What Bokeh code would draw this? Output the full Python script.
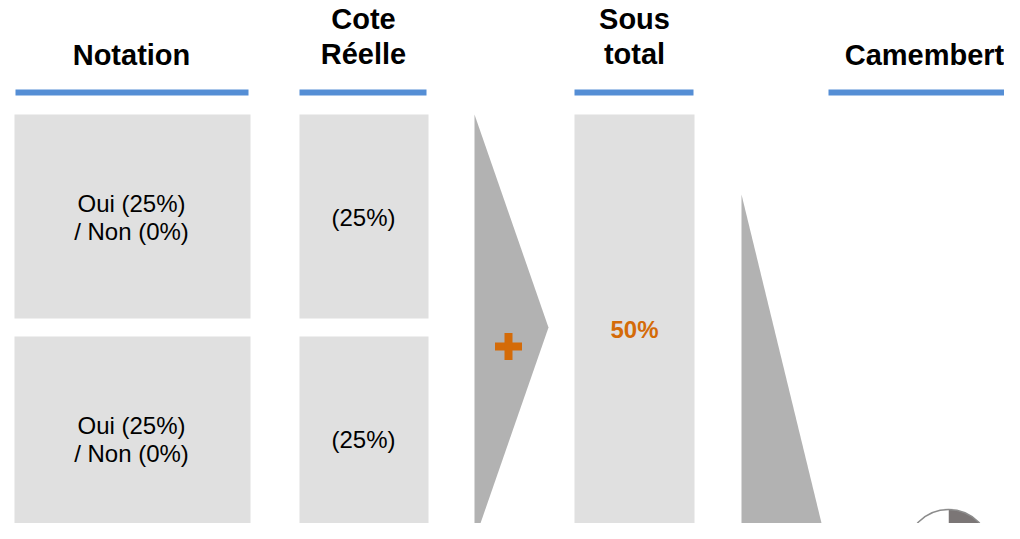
import math
from bokeh.plotting import figure
from bokeh.models import Range1d, ColumnDataSource
from bokeh.core.properties import value
from bokeh.embed import file_html
from bokeh.resources import INLINE

# ---- data ----
headers = ["Notation", "Cote\nRéelle", "Sous\ntotal", "Camembert"]
notation_labels = ["Oui (25%)\n/ Non (0%)", "Oui (25%)\n/ Non (0%)"]
cote_labels = ["(25%)", "(25%)"]
subtotal_label = "50%"
pie_shares = [50, 50]          # dark share, light share (percent)
pie_colors = ["#7b7676", "#ffffff"]

# ---- layout (page pixel coordinates) ----
W, H = 1004, 523
PAGE_H = 539
def Y(py):
    return PAGE_H - py

FONT = value("Liberation Sans")
BLUE = "#558ed5"
BOX = "#e0e0e0"
ARROW = "#b2b2b2"
ORANGE = "#d46b08"

p = figure(width=W, height=H, x_range=Range1d(0, W), y_range=Range1d(PAGE_H - H, PAGE_H),
           output_backend="svg", toolbar_location=None, min_border=0,
           x_axis_type=None, y_axis_type=None)
p.grid.visible = False
p.outline_line_color = None
p.background_fill_color = "white"
p.border_fill_color = "white"

# header underlines
line_spans = [(15, 248), (299, 426), (574, 693), (828, 1020)]
p.quad(left=[a for a, b in line_spans], right=[b for a, b in line_spans],
       top=[Y(89)] * 4, bottom=[Y(95)] * 4, fill_color=BLUE, line_color=None)

# header texts
header_x = [131, 363, 634, 924]
header_y = [Y(54), Y(36), Y(36), Y(54)]
p.text(x=header_x, y=header_y, text=headers, text_align="center", text_baseline="middle",
       text_font=FONT, text_font_size="29px", text_font_style="bold", text_color="black",
       text_line_height=1.1)

# grey boxes: two rows for Notation and Cote
row_spans = [(114, 318), (336, 540)]
n_rows = len(notation_labels)
p.quad(left=[14] * n_rows, right=[250] * n_rows,
       top=[Y(a) for a, b in row_spans], bottom=[Y(b) for a, b in row_spans],
       fill_color=BOX, line_color=None)
p.quad(left=[299] * n_rows, right=[428] * n_rows,
       top=[Y(a) for a, b in row_spans], bottom=[Y(b) for a, b in row_spans],
       fill_color=BOX, line_color=None)
row_centers = [Y((a + b) / 2 + 1) for a, b in row_spans]
p.text(x=[131] * n_rows, y=row_centers, text=notation_labels, text_align="center",
       text_baseline="middle", text_font=FONT, text_font_size="24px", text_color="black",
       text_line_height=1.05)
p.text(x=[363] * n_rows, y=row_centers, text=cote_labels, text_align="center",
       text_baseline="middle", text_font=FONT, text_font_size="24px", text_color="black")

# chevron arrow with plus sign
p.patch(x=[474, 548, 474], y=[Y(114), Y(327), Y(540)], fill_color=ARROW, line_color=None)
p.rect(x=[508, 508], y=[Y(346), Y(346)], width=[27, 8], height=[8, 27],
       fill_color=ORANGE, line_color=None)

# sous total box
p.quad(left=[574], right=[694], top=[Y(114)], bottom=[Y(540)], fill_color=BOX, line_color=None)
p.text(x=[634], y=[Y(329)], text=[subtotal_label], text_align="center", text_baseline="middle",
       text_font=FONT, text_font_size="24px", text_font_style="bold", text_color=ORANGE)

# second arrow
p.patch(x=[741, 890, 741], y=[Y(194), Y(806), Y(1100)], fill_color=ARROW, line_color=None)

# pie
total = sum(pie_shares)
starts, ends = [], []
a = math.pi / 2
for s in pie_shares:
    starts.append(a)
    a = a - 2 * math.pi * s / total
    ends.append(a)
src = ColumnDataSource(dict(start=starts, end=ends, color=pie_colors))
cx, cy, r = 948, Y(551), 42
p.wedge(x=cx, y=cy, radius=r, start_angle="start", end_angle="end", direction="clock",
        fill_color="color", line_color=None, source=src)
p.circle(x=[cx], y=[cy], radius=r, fill_color=None, line_color="#8c8c8c", line_width=1.5)

open("out.html", "w").write(file_html(p, INLINE))
